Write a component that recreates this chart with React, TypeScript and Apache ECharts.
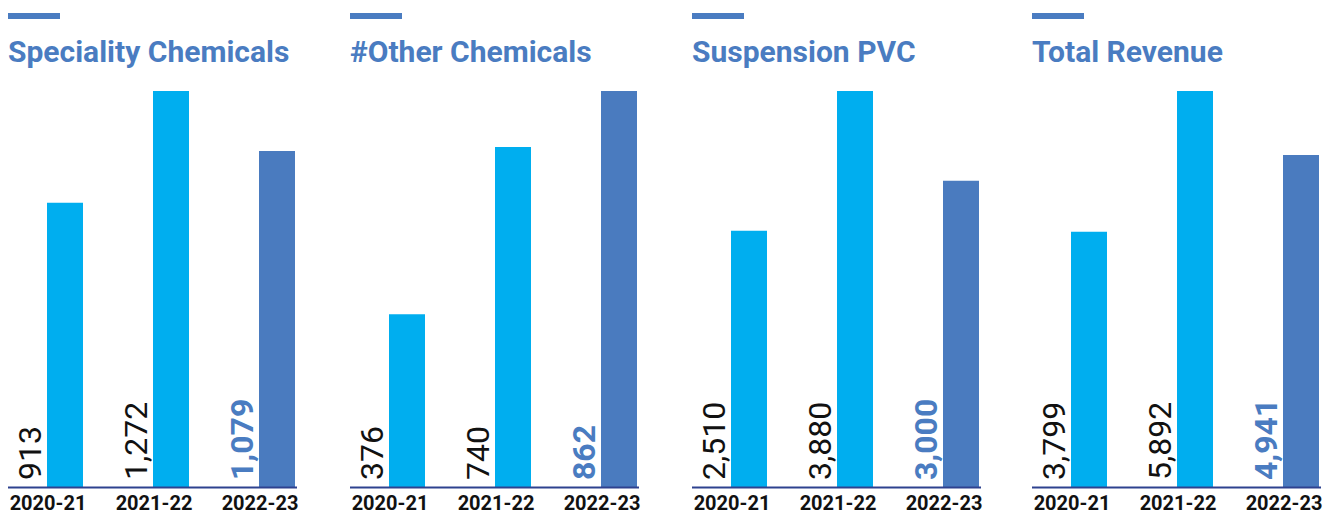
import React, { useEffect, useRef } from "react";
import * as echarts from "echarts";

const categories = ["2020-21", "2021-22", "2022-23"];
const panelTitles = ["Speciality Chemicals", "#Other Chemicals", "Suspension PVC", "Total Revenue"];
const specialityChemicals = [913, 1272, 1079];
const otherChemicals = [376, 740, 862];
const suspensionPVC = [2510, 3880, 3000];
const totalRevenue = [3799, 5892, 4941];
const panelValues = [specialityChemicals, otherChemicals, suspensionPVC, totalRevenue];

const LIGHT = "#00AEEF";
const DARK = "#4A7BBF";
const TITLE = "#4A7CC1";
const AXIS = "#2E428F";
const FONT = "Roboto, 'Noto Sans', sans-serif";

export default function App() {
  const ref = useRef<HTMLDivElement>(null);
  useEffect(() => {
    document.body.style.margin = "0";
    const chart = echarts.init(ref.current!, undefined, { renderer: "svg" });
    const offsets = [0, 342, 684, 1024];
    const grids: any[] = [];
    const xAxes: any[] = [];
    const yAxes: any[] = [];
    const series: any[] = [];
    const graphics: any[] = [];
    panelValues.forEach((vals, i) => {
      const o = offsets[i];
      const max = Math.max(...vals);
      grids.push({
        left: -5 + o,
        width: 318,
        top: 91,
        bottom: 26,
        outerBoundsMode: "none",
        containLabel: false,
      });
      xAxes.push({
        type: "category",
        gridIndex: i,
        data: categories,
        axisLine: { show: false },
        axisTick: { show: false },
        axisLabel: {
          fontSize: 20,
          lineHeight: 18,
          fontWeight: "bold",
          color: "#111",
          fontFamily: FONT,
          margin: 7,
        },
      });
      yAxes.push({ type: "value", gridIndex: i, min: 0, max, show: false, splitLine: { show: false } });
      series.push({
        type: "bar",
        xAxisIndex: i,
        yAxisIndex: i,
        barWidth: 34,
        barGap: "0%",
        silent: true,
        itemStyle: { color: "rgba(0,0,0,0)" },
        data: vals.map((v, j) => ({
          value: v,
          label: {
            color: j === 2 ? TITLE : "#111",
            fontWeight: j === 2 ? "bold" : "normal",
          },
        })),
        label: {
          show: true,
          position: "insideBottom",
          distance: 7,
          rotate: 90,
          align: "left",
          verticalAlign: "middle",
          fontSize: 32,
          fontFamily: FONT,
          formatter: (p: any) => Number(p.value).toLocaleString("en-US"),
        },
      });
      series.push({
        type: "bar",
        xAxisIndex: i,
        yAxisIndex: i,
        barWidth: 36,
        barGap: "0%",
        data: vals.map((v, j) => ({ value: v, itemStyle: { color: j === 2 ? DARK : LIGHT } })),
      });
      graphics.push({
        type: "rect",
        shape: { x: 8 + o, y: 13, width: 52, height: 6 },
        style: { fill: TITLE },
      });
      graphics.push({
        type: "text",
        x: 8 + o,
        y: 51,
        style: {
          text: panelTitles[i],
          font: `bold 30px ${FONT}`,
          fill: TITLE,
          verticalAlign: "middle",
        },
      });
      graphics.push({
        type: "line",
        z: 100,
        shape: { x1: 8 + o, y1: 487.5, x2: 297 + o, y2: 487.5 },
        style: { stroke: AXIS, lineWidth: 2 },
      });
    });
    chart.setOption({
      animation: false,
      grid: grids,
      xAxis: xAxes,
      yAxis: yAxes,
      series,
      graphic: graphics,
    });
    return () => chart.dispose();
  }, []);
  return <div ref={ref} style={{ width: 1338, height: 513 }} />;
}
